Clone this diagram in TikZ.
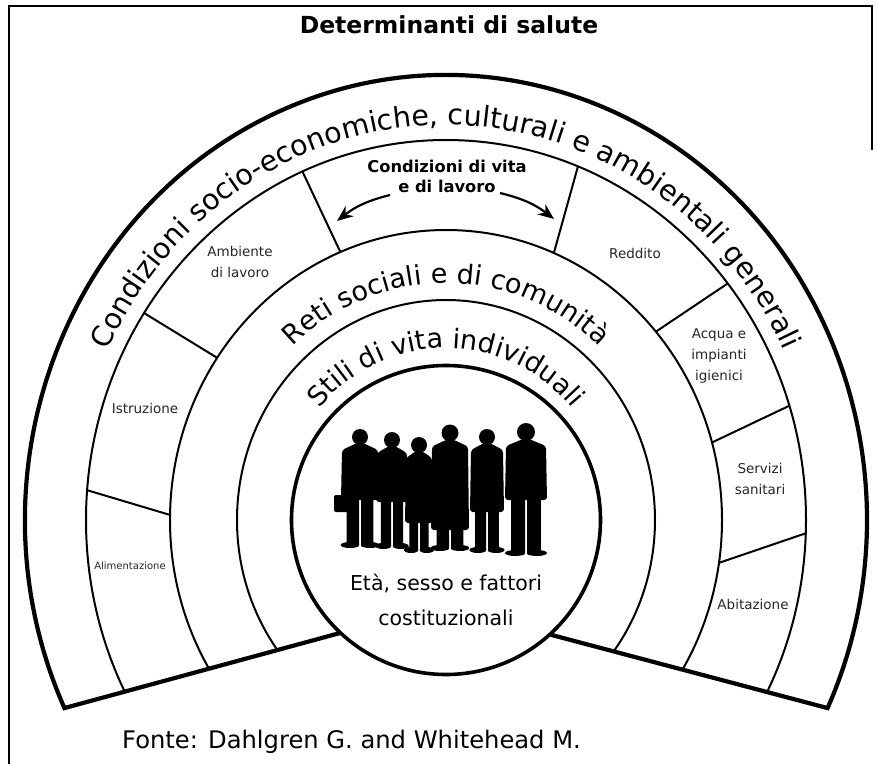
\documentclass[tikz,border=0pt]{standalone}
\usepackage{fontspec}
\setmainfont{DejaVu Sans}
\usetikzlibrary{decorations.text,arrows.meta,calc}

% simple standing figure: x, head y, head radius, half width, hip y, foot y
\newcommand\silhouette[6]{%
  \fill (#1,#2) circle[radius=#3];
  \fill[rounded corners=3pt] (#1-3,#2-#3+2) -- (#1-#4,#2-#3-5) -- (#1-#4-1,#5)
     -- (#1+#4+1,#5) -- (#1+#4,#2-#3-5) -- (#1+3,#2-#3+2) -- cycle;
  \fill[rounded corners=2pt] (#1-0.74*#4,#5+3) rectangle (#1-1,#6);
  \fill[rounded corners=2pt] (#1+1,#5+3) rectangle (#1+0.74*#4,#6);
  \fill (#1-0.45*#4-2,#6+2) ellipse[x radius=0.4*#4+2, y radius=3];
  \fill (#1+0.45*#4+2,#6+2) ellipse[x radius=0.4*#4+2, y radius=3];
}
\newcommand\outersize{\fontsize{28.5}{32}\selectfont}
\newcommand\arcsize{\fontsize{27}{31}\selectfont}

\begin{document}
\begin{tikzpicture}[x=1pt,y=1pt,
  frame/.style={line width=2.6pt},
  boundary/.style={line width=4.2pt, line join=miter},
  ring/.style={line width=2pt},
  divider/.style={line width=2pt},
  small/.style={font=\fontsize{13.5}{21}\selectfont, align=center, text=black!85},
  tiny/.style={font=\fontsize{10}{12}\selectfont, text=black!85},
  sweep/.style={line width=2.2pt, -{Stealth[length=16pt,width=13pt]}}]

\path[use as bounding box] (-446,-244) rectangle (431,520);

% page frame
\draw[frame] (-437,-244) -- (-437,514) -- (426,514) -- (426,370);

% title
\node[font=\bfseries\fontsize{23.5}{28}\selectfont] (title) at (3,495) {Determinanti di salute};

% corner points of the fan
\coordinate (Lo) at (205:421 and 445);
\coordinate (Ro) at (-25:421 and 445);
\coordinate (Li) at (-106,-113);
\coordinate (Ri) at (102,-114);

% inner rings, cut off by the base
\begin{scope}
  \clip ($(Li)!1.2!(Lo)$) -- (Li) -- (Ri) -- ($(Ri)!1.2!(Ro)$) -- (480,530) -- (-480,530) -- cycle;
  \draw[ring] (0,0) ellipse[x radius=360, y radius=380];
  \draw[ring] (0,0) ellipse[x radius=276, y radius=290];
  \draw[ring] (0,0) ellipse[x radius=209, y radius=220];
\end{scope}

% outer boundary with its base
\draw[boundary] (Li) -- (Lo) arc[start angle=205, end angle=-25, x radius=421, y radius=445] -- (Ri);

% dividers of the living and working conditions ring
\foreach \a/\b [count=\i] in {179/175.5, 146/147, 112.5/113.5, 67/68.5, 40.5/38.5, 15.5/17.5, -8.5/-2}{
  \coordinate (din\i) at (\a:276 and 290);
  \coordinate (dout\i) at (\b:360 and 380);
  \draw[divider] (din\i) -- (dout\i);
}

% central circle
\draw[line width=3.6pt, fill=white] (0,0) circle[radius=154.5];

% people
\begin{scope}
  \silhouette{-86}{83}{8}{18}{20}{-27}
  \fill[rounded corners=2pt] (-112,25) rectangle (-97,8);
  \silhouette{-54}{80}{8}{15}{18}{-28}
  \silhouette{-27}{75}{8}{13}{-3}{-32}
  \silhouette{4}{87}{8.5}{18}{-10}{-30}
  \silhouette{41}{83}{8}{16}{8}{-32}
  \silhouette{80}{88}{9}{20}{20}{-35}
\end{scope}

\node[font=\fontsize{20.5}{35}\selectfont, align=center] (core) at (0,-79.5)
  {Età, sesso e fattori\\costituzionali};

% curved ring titles
\path[decorate, decoration={text along path, text align=center,
  text={|\outersize|Condizioni socio-economiche, culturali e ambientali generali}}]
  (160:374 and 395) arc[start angle=160, end angle=20, x radius=374, y radius=395];
\path[decorate, decoration={text along path, text align=center,
  text={|\arcsize|Reti sociali e di comunità}}]
  (145:225 and 237) arc[start angle=145, end angle=35, x radius=225, y radius=237];
\path[decorate, decoration={text along path, text align=center,
  text={|\arcsize|Stili di vita individuali}}]
  (150:166 and 172) arc[start angle=150, end angle=30, x radius=166, y radius=172];

% living and working conditions
\node[font=\bfseries\fontsize{16.3}{20}\selectfont, align=center] (cdv) at (1,344)
  {Condizioni di vita\\e di lavoro};
\coordinate (aLs) at (-56,325);
\coordinate (aLe) at (-109,299);
\coordinate (aRs) at (54,327);
\coordinate (aRe) at (108,301);
\draw[sweep] (aLs) to[bend right=12] (aLe);
\draw[sweep] (aRs) to[bend left=12] (aRe);

% sector labels
\node[small] (amb) at (-206,258) {Ambiente\\di lavoro};
\node[small] (istr) at (-301,112) {Istruzione};
\node[tiny] (alim) at (-316,-46) {Alimentazione};
\node[small] (red) at (189,267) {Reddito};
\node[small] (acq) at (273,164) {Acqua e\\impianti\\igienici};
\node[small] (serv) at (314,41.5) {Servizi\\sanitari};
\node[small] (abit) at (307,-84) {Abitazione};

% source
\node[anchor=west, font=\fontsize{24.2}{28}\selectfont, inner sep=0pt] (src) at (-324,-222)
  {Fonte: Dahlgren G. and Whitehead M.};
\end{tikzpicture}
\end{document}
